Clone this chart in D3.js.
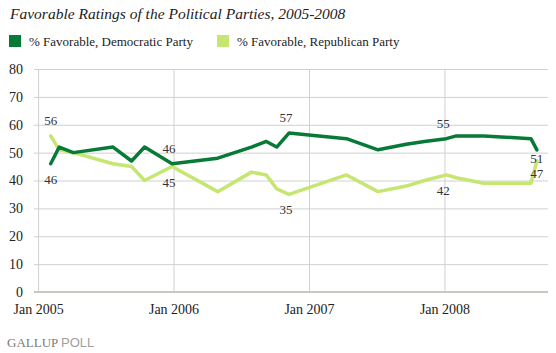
<!DOCTYPE html>
<html>
<head>
<meta charset="utf-8">
<script src="https://cdn.jsdelivr.net/npm/d3@7"></script>
<style>
  body { margin: 0; background: #fff; }
  svg { display: block; font-family: "Liberation Serif", "DejaVu Serif", serif; }
  .grid line { stroke: #d0d0d0; stroke-width: 1; }
  .grid path { display: none; }
  .y-axis text, .x-axis text { fill: #222; font-size: 14px; font-family: "Liberation Serif", serif; }
  .y-axis path, .y-axis line, .x-axis path, .x-axis line { display: none; }
  .line { fill: none; stroke-width: 3.5; stroke-linejoin: round; stroke-linecap: round; }
  .value-label { font-size: 13px; fill: #333; text-anchor: middle; }
</style>
</head>
<body>
<div id="wrapper"></div>
<script>
// poll dates (field dates)
const pollDates = [
  "2005-02-04", "2005-02-27", "2005-04-06", "2005-07-22", "2005-09-10",
  "2005-10-15", "2005-12-28", "2006-04-30", "2006-07-30", "2006-09-08",
  "2006-10-06", "2006-11-08", "2007-04-12", "2007-07-06", "2007-09-20",
  "2007-11-08", "2008-01-06", "2008-02-02", "2008-04-16", "2008-08-21",
  "2008-09-06"
]
const democraticValues = [46, 52, 50, 52, 47, 52, 46, 48, 52, 54, 52, 57, 55, 51, 53, 54, 55, 56, 56, 55, 51]
const republicanValues = [56, 51, 50, 46, 45, 40, 45, 36, 43, 42, 37, 35, 42, 36, 38, 40, 42, 41, 39, 39, 47]

const seriesNames = ["% Favorable, Democratic Party", "% Favorable, Republican Party"]
const yTicks = [0, 10, 20, 30, 40, 50, 60, 70, 80]
const xTickDates = ["2005-01-01", "2006-01-01", "2007-01-01", "2008-01-01"]
const xTickLabels = ["Jan 2005", "Jan 2006", "Jan 2007", "Jan 2008"]

// which points carry a value label: [series, point index, place]
const labelledPoints = [
  ["rep", 0, "above"], ["dem", 0, "below"],
  ["dem", 6, "above"], ["rep", 6, "below"],
  ["dem", 11, "above"], ["rep", 11, "below"],
  ["dem", 16, "above"], ["rep", 16, "below"],
  ["dem", 20, "end1"], ["rep", 20, "end2"]
]

function drawChart() {

  // 1. Access data
  const parseDate = d3.timeParse("%Y-%m-%d")
  const dataset = pollDates.map((d, i) => ({
    date: parseDate(d),
    dem: democraticValues[i],
    rep: republicanValues[i],
  }))
  const xAccessor = d => d.date

  // 2. Create chart dimensions
  let dimensions = {
    width: 556,
    height: 353,
    margin: { top: 69, right: 8, bottom: 61, left: 34 },
  }
  dimensions.boundedWidth = dimensions.width - dimensions.margin.left - dimensions.margin.right
  dimensions.boundedHeight = dimensions.height - dimensions.margin.top - dimensions.margin.bottom

  // 3. Draw canvas
  const wrapper = d3.select("#wrapper")
    .append("svg")
    .attr("width", dimensions.width)
    .attr("height", dimensions.height)

  const bounds = wrapper.append("g")
    .attr("transform", `translate(${dimensions.margin.left}, ${dimensions.margin.top})`)

  // 4. Create scales
  const yScale = d3.scaleLinear()
    .domain([0, 80])
    .range([dimensions.boundedHeight, 0])

  const xScale = d3.scaleTime()
    .domain([parseDate("2004-12-21"), parseDate("2008-10-06")])
    .range([0, dimensions.boundedWidth])

  // 5. Draw peripherals (grid first, data on top)
  bounds.append("g")
    .attr("class", "grid")
    .call(d3.axisLeft(yScale).tickValues(yTicks).tickSize(-dimensions.boundedWidth).tickFormat(""))

  bounds.append("g")
    .attr("class", "grid")
    .attr("transform", `translate(0, ${dimensions.boundedHeight})`)
    .call(d3.axisBottom(xScale)
      .tickValues(xTickDates.map(parseDate))
      .tickSize(-dimensions.boundedHeight)
      .tickFormat(""))

  bounds.append("line")
    .attr("x1", 0)
    .attr("x2", dimensions.boundedWidth)
    .attr("y1", yScale(0))
    .attr("y2", yScale(0))
    .attr("stroke", "#c9c9c2")
    .attr("stroke-width", 2)

  bounds.append("g")
    .attr("class", "y-axis")
    .attr("transform", "translate(-11, 0)")
    .call(d3.axisLeft(yScale).tickValues(yTicks).tickSize(0).tickPadding(0))

  bounds.append("g")
    .attr("class", "x-axis")
    .attr("transform", `translate(0, ${dimensions.boundedHeight})`)
    .call(d3.axisBottom(xScale)
      .tickValues(xTickDates.map(parseDate))
      .tickSize(0)
      .tickPadding(12)
      .tickFormat((d, i) => xTickLabels[i]))

  // 6. Draw data
  const colors = { dem: "#087a37", rep: "#c6e571" }

  const lineFor = key => d3.line()
    .x(d => xScale(xAccessor(d)))
    .y(d => yScale(d[key]))

  bounds.append("path")
    .attr("class", "line")
    .attr("stroke", colors.rep)
    .attr("d", lineFor("rep")(dataset))

  bounds.append("path")
    .attr("class", "line")
    .attr("stroke", colors.dem)
    .attr("d", lineFor("dem")(dataset))

  const offsets = {
    above: [-3, -11],
    below: [-3, 20],
    end1: [0, 13],
    end2: [0, 28],
  }
  const offsetsStart = { above: [0, -11], below: [0, 20] }

  bounds.selectAll(".value-label")
    .data(labelledPoints)
    .join("text")
    .attr("class", "value-label")
    .attr("x", ([key, i, place]) => {
      const off = i == 0 ? offsetsStart[place] : offsets[place]
      return xScale(xAccessor(dataset[i])) + off[0]
    })
    .attr("y", ([key, i, place]) => {
      const off = i == 0 ? offsetsStart[place] : offsets[place]
      if (place == "end1" || place == "end2") return yScale(dataset[i].dem) + off[1]
      return yScale(dataset[i][key]) + off[1]
    })
    .text(([key, i]) => dataset[i][key])

  // 7. Title, legend and source
  wrapper.append("text")
    .attr("x", 10)
    .attr("y", 19)
    .style("font-style", "italic")
    .style("font-size", "15.5px")
    .attr("fill", "#222")
    .text("Favorable Ratings of the Political Parties, 2005-2008")

  const legendX = [9, 217]
  const legend = wrapper.selectAll(".legend")
    .data(seriesNames)
    .join("g")
    .attr("class", "legend")
    .attr("transform", (d, i) => `translate(${legendX[i]}, 35)`)

  legend.append("rect")
    .attr("width", 12)
    .attr("height", 12)
    .attr("fill", (d, i) => i == 0 ? colors.dem : colors.rep)

  legend.append("text")
    .attr("x", 20)
    .attr("y", 10.5)
    .style("font-size", "13px")
    .attr("fill", "#222")
    .text(d => d)

  const source = wrapper.append("text")
    .attr("x", 7)
    .attr("y", 347)
    .style("font-size", "13px")
  source.append("tspan")
    .attr("fill", "#7a7a7a")
    .style("font-family", "Liberation Serif, serif")
    .text("GALLUP ")
  source.append("tspan")
    .attr("fill", "#a0a0a0")
    .style("font-family", "Liberation Sans, sans-serif")
    .text("POLL")
}
drawChart()
</script>
</body>
</html>
